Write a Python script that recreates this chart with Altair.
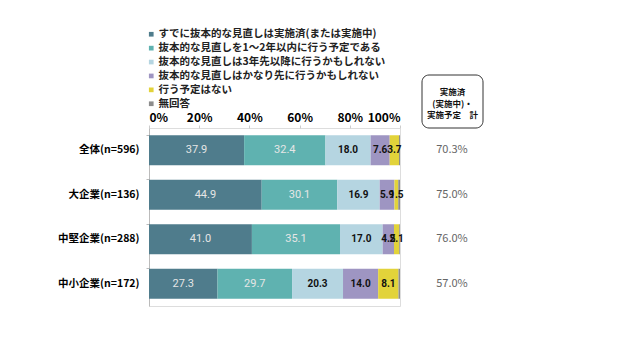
import altair as alt
import pandas as pd

categories = ["全体(n=596)", "大企業(n=136)", "中堅企業(n=288)", "中小企業(n=172)"]
series = [
    "すでに抜本的な見直しは実施済(または実施中)",
    "抜本的な見直しを1～2年以内に行う予定である",
    "抜本的な見直しは3年先以降に行うかもしれない",
    "抜本的な見直しはかなり先に行うかもしれない",
    "行う予定はない",
    "無回答",
]
colors = ["#4f7c8c", "#5fb2b0", "#b5d5e1", "#9e95c2", "#e2d33a", "#8c8c8c"]
values = [
    [37.9, 32.4, 18.0, 7.6, 3.7, 0.4],
    [44.9, 30.1, 16.9, 5.9, 1.5, 0.7],
    [41.0, 35.1, 17.0, 4.5, 2.1, 0.3],
    [27.3, 29.7, 20.3, 14.0, 8.1, 0.6],
]
totals = ["70.3%", "75.0%", "76.0%", "57.0%"]
header_text = "実施済\n(実施中)・\n実施予定\u3000計"

rows = []
for ci, c in enumerate(categories):
    for si, s in enumerate(series):
        rows.append({"cat": c, "series": s, "order": si, "value": values[ci][si],
                     "label": f"{values[ci][si]:.1f}"})
df = pd.DataFrame(rows)
tot_df = pd.DataFrame({"cat": categories, "total": totals})

FONT = "Noto Sans CJK JP"
W, H = 251, 178

y_enc = alt.Y("cat:N", sort=categories, title=None,
              scale=alt.Scale(paddingInner=0.32, paddingOuter=0.16),
              axis=alt.Axis(labelFont=FONT, labelFontWeight="bold", labelFontSize=10.5,
                            labelColor="#000", labelPadding=7, domainColor="#bbb",
                            tickColor="#bbb", tickSize=3, bandPosition=0))

bars = alt.Chart(df).mark_bar(size=30).encode(
    x=alt.X("value:Q", stack="zero", scale=alt.Scale(domain=[0, 100], nice=False),
            title=None,
            axis=alt.Axis(orient="top", values=[0, 20, 40, 60, 80, 100],
                          labelExpr="datum.value + '%'", labelFont=FONT,
                          labelFontWeight="bold", labelFontSize=12, labelColor="#000",
                          domain=False, grid=False, tickColor="#ccc", tickSize=3,
                          labelPadding=1)),
    y=y_enc,
    color=alt.Color("series:N", sort=series,
                    scale=alt.Scale(domain=series, range=colors),
                    legend=alt.Legend(title=None, orient="none", legendX=-3, legendY=-99,
                                      symbolType="square", symbolSize=22,
                                      labelFont=FONT, labelFontSize=10.5, labelFontWeight="bold",
                                      labelColor="#222", rowPadding=2.9, labelLimit=400,
                                      labelOffset=2, symbolStrokeWidth=0)),
    order=alt.Order("order:Q"),
)

base_txt = alt.Chart(df).transform_stack(
    stack="value", groupby=["cat"], as_=["x0", "x1"], sort=[alt.SortField("order")]
).transform_calculate(mid="(datum.x0 + datum.x1) / 2")

light_txt = base_txt.transform_filter("datum.order < 2").mark_text(
    font="Roboto", fontSize=11, color="#e6e6e6").encode(
    x="mid:Q", y=alt.Y("cat:N", sort=categories), text="label:N")
dark_txt = base_txt.transform_filter("datum.order >= 2 && datum.order < 5").mark_text(
    font="Roboto", fontSize=10, fontWeight="bold", color="#111").encode(
    x="mid:Q", y=alt.Y("cat:N", sort=categories), text="label:N")

tot_txt = alt.Chart(tot_df).mark_text(font=FONT, fontSize=11, color="#666").encode(
    x=alt.value(303), y=alt.Y("cat:N", sort=categories), text="total:N")

box = alt.Chart(pd.DataFrame({"a": [1]})).mark_rect(
    fill="white", stroke="#333", strokeWidth=1, cornerRadius=7).encode(
    x=alt.value(273), x2=alt.value(334), y=alt.value(-53), y2=alt.value(0))

hdr = alt.Chart(pd.DataFrame({"t": [header_text]})).mark_text(
    font=FONT, fontSize=8.5, fontWeight="bold", color="#111", lineBreak="\n",
    lineHeight=11.5, baseline="top").encode(
    x=alt.value(303.5), y=alt.value(-40), text="t:N")

chart = alt.layer(bars, light_txt, dark_txt, tot_txt, box, hdr).properties(
    width=W, height=H,
    padding={"left": 149, "top": 128, "right": 240, "bottom": 46},
    autosize=alt.AutoSizeParams(type="none"),
).configure_view(stroke=None).configure(background="white")

chart.save("out.html", embed_options={"renderer": "svg", "actions": False})
